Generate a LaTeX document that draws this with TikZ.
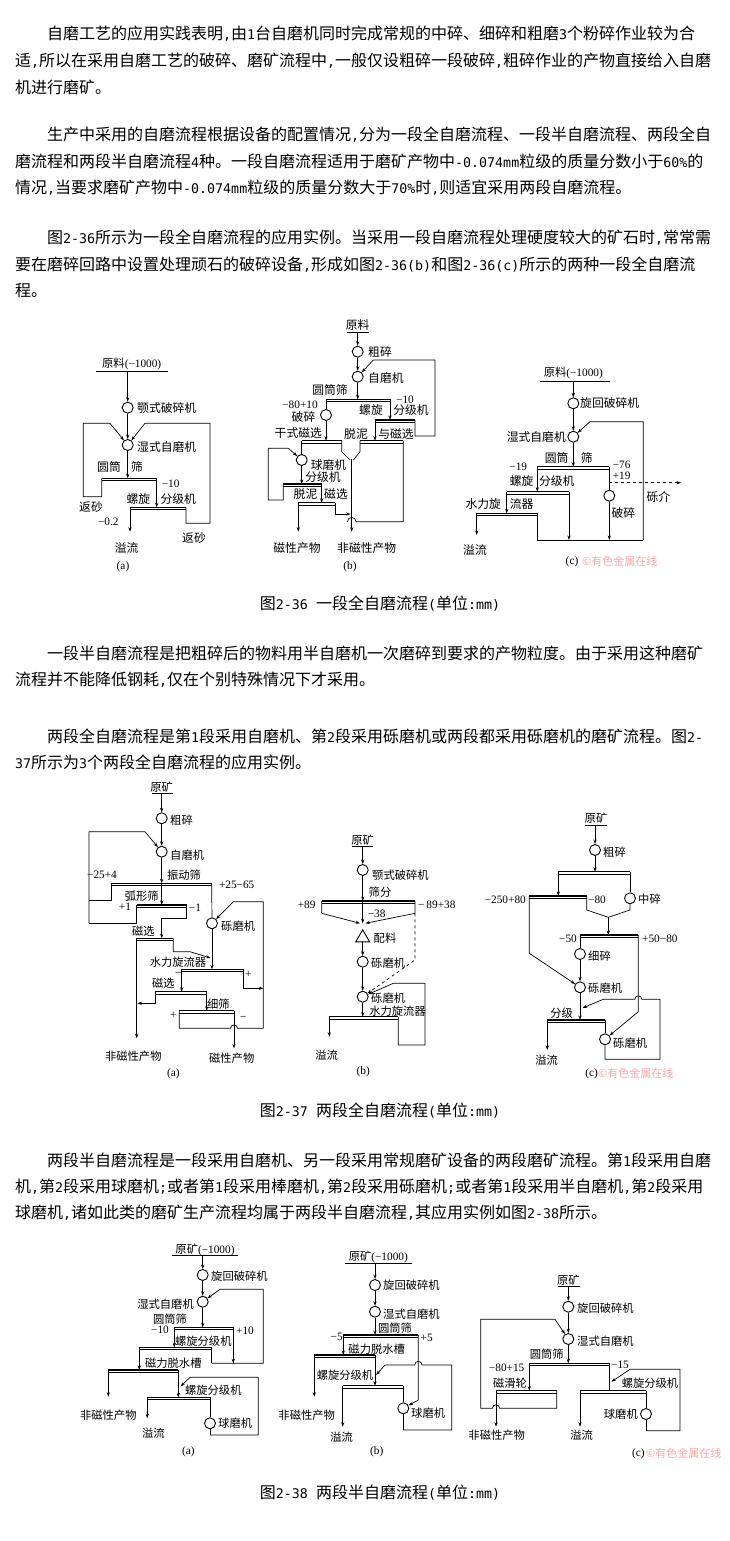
\documentclass[tikz,border=0pt]{standalone}
\usepackage{fontspec}
\usetikzlibrary{arrows.meta,shapes.geometric}
\setmainfont{Noto Sans CJK SC}
\newfontfamily\cjk{Noto Sans CJK SC}
\newfontfamily\amono{DejaVu Sans Mono}
\newfontfamily\fser{Liberation Serif}
\newcommand\A[1]{{\amono\fontsize{13.3}{16}\selectfont #1}}
\newcommand\sbar[3]{\draw[line width=1.3pt] (#1,#3)--(#2,#3); \draw[line width=0.5pt] (#1,#3+2.3)--(#2,#3+2.3);}
\tikzset{
 ptxt/.style={anchor=west,inner sep=0pt,font=\cjk\fontsize{16}{18}\selectfont},
 ctxt/.style={inner sep=0pt,font=\cjk\fontsize{16}{18}\selectfont},
 L/.style={inner sep=0pt,font=\cjk\fontsize{11.3}{12}\selectfont},
 LL/.style={inner sep=0pt,font=\cjk\fontsize{11.8}{12}\selectfont},
 N/.style={inner sep=0pt,font=\fser\fontsize{11.3}{12}\selectfont},
 mill/.style={circle,draw,line width=0.9pt,minimum size=11pt,inner sep=0pt},
 fl/.style={line width=0.7pt},
 ar/.style={line width=0.7pt,-{Stealth[length=4.5pt,width=3.2pt]}},
 dar/.style={ar,dashed},
 wm/.style={inner sep=0pt,font=\cjk\fontsize{11}{12}\selectfont,text=red!35},
}
\begin{document}
\begin{tikzpicture}[x=1pt,y=-1pt]
\useasboundingbox (0,0) rectangle (730,1541);
\fill[white] (0,0) rectangle (730,1541);
% ---------------- paragraphs ----------------
\node[ptxt] (p1a) at (47,34) {自磨工艺的应用实践表明\A{,}由\A{1}台自磨机同时完成常规的中碎、细碎和粗磨\A{3}个粉碎作业较为合};
\node[ptxt] (p1b) at (15,60.5) {适\A{,}所以在采用自磨工艺的破碎、磨矿流程中\A{,}一般仅设粗碎一段破碎\A{,}粗碎作业的产物直接给入自磨};
\node[ptxt] (p1c) at (15,87) {机进行磨矿。};
\node[ptxt] (p2a) at (47,135) {生产中采用的自磨流程根据设备的配置情况\A{,}分为一段全自磨流程、一段半自磨流程、两段全自};
\node[ptxt] (p2b) at (15,161.5) {磨流程和两段半自磨流程\A{4}种。一段自磨流程适用于磨矿产物中\A{-0.074mm}粒级的质量分数小于\A{60\%}的};
\node[ptxt] (p2c) at (15,188) {情况\A{,}当要求磨矿产物中\A{-0.074mm}粒级的质量分数大于\A{70\%}时\A{,}则适宜采用两段自磨流程。};
\node[ptxt] (p3a) at (47,238) {图\A{2-36}所示为一段全自磨流程的应用实例。当采用一段自磨流程处理硬度较大的矿石时\A{,}常常需};
\node[ptxt] (p3b) at (15,264.5) {要在磨碎回路中设置处理顽石的破碎设备\A{,}形成如图\A{2-36(b)}和图\A{2-36(c)}所示的两种一段全自磨流};
\node[ptxt] (p3c) at (15,291) {程。};
\node[ctxt] (cap1) at (380,604) {图\A{2-36 }一段全自磨流程\A{(}单位\A{:mm)}};
\node[ptxt] (p4a) at (47,653) {一段半自磨流程是把粗碎后的物料用半自磨机一次磨碎到要求的产物粒度。由于采用这种磨矿};
\node[ptxt] (p4b) at (15,679.5) {流程并不能降低钢耗\A{,}仅在个别特殊情况下才采用。};
\node[ptxt] (p5a) at (47,736) {两段全自磨流程是第\A{1}段采用自磨机、第\A{2}段采用砾磨机或两段都采用砾磨机的磨矿流程。图\A{2-}};
\node[ptxt] (p5b) at (15,762.5) {\A{37}所示为\A{3}个两段全自磨流程的应用实例。};
\node[ctxt] (cap2) at (380,1111) {图\A{2-37 }两段全自磨流程\A{(}单位\A{:mm)}};
\node[ptxt] (p6a) at (47,1160) {两段半自磨流程是一段采用自磨机、另一段采用常规磨矿设备的两段磨矿流程。第\A{1}段采用自磨};
\node[ptxt] (p6b) at (15,1186.5) {机\A{,}第\A{2}段采用球磨机\A{;}或者第\A{1}段采用棒磨机\A{,}第\A{2}段采用砾磨机\A{;}或者第\A{1}段采用半自磨机\A{,}第\A{2}段采用};
\node[ptxt] (p6c) at (15,1213) {球磨机\A{,}诸如此类的磨矿生产流程均属于两段半自磨流程\A{,}其应用实例如图\A{2-38}所示。};
\node[ctxt] (cap3) at (380,1493) {图\A{2-38 }两段半自磨流程\A{(}单位\A{:mm)}};

% ================= Fig 2-36 (a) =================
\node[N] (a36f) at (131.7,364) {{\cjk 原料}(−1000)};
\draw[fl] (96,371) -- (168,371);
\node[mill] (a36c1) at (127.7,407.7) {};
\node[LL,anchor=west] (a36l1) at (137,407.7) {颚式破碎机};
\node[mill] (a36c2) at (127.7,445) {};
\node[LL,anchor=west] (a36l2) at (137,447) {湿式自磨机};
\draw[ar] (127.7,371) -- (a36c1);
\draw[ar] (a36c1) -- (a36c2);
\sbar{101.7}{156.7}{478.3}
\draw[ar] (a36c2) -- (127.7,478.3);
\node[LL] (a36s1) at (109,467) {圆筒};
\node[LL] (a36s2) at (137,467) {筛};
\draw[ar] (101.7,478.3) -- (101.7,496.7) -- (83.3,496.7) -- (83.3,423.3) -- (110,423.3) -- (a36c2);
\sbar{130}{186}{507.3}
\draw[ar] (156.7,478.3) -- (156.7,507.3);
\draw[ar] (186,507.3) -- (186,523.3) -- (210,523.3) -- (210,423.3) -- (145,423.3) -- (a36c2);
\draw[ar] (130,507.3) -- (130,531.7);
\node[LL] (a36r1) at (91,507) {返砂};
\node[N] (a36n1) at (108.3,521.7) {−0.2};
\node[LL] (a36o) at (126.7,548.3) {溢流};
\node[LL] (a36r2) at (194,538.3) {返砂};
\node[N] (a36n2) at (170.7,484) {−10};
\node[LL] (a36sp) at (138.3,499) {螺旋};
\node[LL] (a36cl) at (178.3,499) {分级机};
\node[N] (a36t) at (123,567) {(a)};

% ================= Fig 2-36 (b) =================
\node[LL] (b36f) at (357.7,325) {原料};
\draw[fl] (346.7,332.7) -- (369,332.7);
\node[mill] (b36c1) at (357.7,351.7) {};
\node[LL,anchor=west] (b36l1) at (368,351.7) {粗碎};
\node[mill] (b36c2) at (357.7,376.7) {};
\node[LL,anchor=west] (b36l2) at (368,378.3) {自磨机};
\draw[ar] (357.7,332.7) -- (b36c1);
\draw[ar] (b36c1) -- (b36c2);
\sbar{326}{390}{399.3}
\draw[ar] (b36c2) -- (357.7,399.3);
\node[LL] (b36s) at (330,389.5) {圆筒筛};
\node[mill] (b36c3) at (326,415) {};
\draw[fl] (326,399.3) -- (b36c3);
\node[N] (b36n1) at (300,404.3) {−80+10};
\node[LL] (b36l3) at (303.5,416.7) {破碎};
\sbar{301.7}{341.7}{440.7}
\draw[ar] (b36c3) -- (326,440.7);
\node[LL] (b36dm) at (298.3,433) {干式磁选};
\node[mill] (b36c4) at (301.7,460) {};
\draw[fl] (301.7,440.7) -- (b36c4);
\node[LL] (b36l4) at (328.5,465) {球磨机};
\sbar{283.3}{321.7}{484}
\draw[ar] (b36c4) -- (301.7,484);
\node[LL] (b36l5) at (323,477) {分级机};
\draw[ar] (283.3,484) -- (283.3,500) -- (268.3,500) -- (268.3,448.3) -- (288.3,448.3) -- (b36c4);
\sbar{298.3}{335}{502.7}
\draw[ar] (321.7,484) -- (321.7,502.7);
\node[LL] (b36l6) at (305.5,494.5) {脱泥};
\node[LL] (b36l7) at (336,494.5) {磁选};
\draw[ar] (298.3,502.7) -- (298.3,531.7);
\node[LL] (b36p1) at (297,548.3) {磁性产物};
\draw[ar] (335,502.7) -- (335,514) -- (350.5,514);
\draw[fl] (341.7,440.7) -- (341.7,451.7) -- (350,460);
\draw[fl] (360,440.7) -- (360,451.7) -- (353.4,460);
\draw[ar] (351.7,459) -- (351.7,531.7);
\node[LL] (b36p2) at (366.7,548.3) {非磁性产物};
\sbar{360}{403.3}{440.7}
\draw[fl] (403.3,440.7) -- (403.3,521.7) -- (356,521.7) arc[start angle=0,end angle=-180,radius=4.3];
\node[LL] (b36l8) at (356,434.5) {脱泥};
\node[LL] (b36l9) at (396,434.5) {与磁选};
\sbar{375}{415}{420}
\draw[ar] (390,399.3) -- (390,420);
\node[N] (b36n2) at (405,400) {−10};
\node[LL] (b36l10) at (371,410) {螺旋};
\node[LL] (b36l11) at (411,410) {分级机};
\draw[ar] (375,420) -- (375,440.7);
\draw[ar] (415,420) -- (415,436) -- (435,436) -- (435,360) -- (373.3,360) -- (b36c2);
\node[N] (b36t) at (350,567) {(b)};

% ================= Fig 2-36 (c) =================
\node[N] (c36f) at (573.3,373.3) {{\cjk 原料}(−1000)};
\draw[fl] (540,381.7) -- (610,381.7);
\node[mill] (c36c1) at (573.3,403.3) {};
\node[LL,anchor=west] (c36l1) at (580,403.3) {旋回破碎机};
\node[mill] (c36c2) at (573.3,436.7) {};
\node[LL,anchor=east] (c36l2) at (566,437.3) {湿式自磨机};
\draw[ar] (573.3,381.7) -- (c36c1);
\draw[ar] (c36c1) -- (c36c2);
\draw[ar] (643.3,540) -- (643.3,421.7) -- (590,421.7) -- (c36c2);
\sbar{537.3}{609.3}{466.7}
\draw[ar] (c36c2) -- (573.3,466.7);
\node[LL] (c36s1) at (556.7,458.3) {圆筒};
\node[LL] (c36s2) at (586.7,458.3) {筛};
\sbar{506.7}{569}{491.7}
\draw[ar] (537.3,466.7) -- (537.3,491.7);
\node[N] (c36n1) at (518.3,467.3) {−19};
\node[LL] (c36l3) at (521.7,481.5) {螺旋};
\node[LL] (c36l4) at (556.7,481.5) {分级机};
\node[mill] (c36c3) at (609.3,495.7) {};
\draw[fl] (609.3,466.7) -- (c36c3);
\draw[dar] (609.3,482.7) -- (681,482.7);
\node[N] (c36n2) at (621.7,465) {−76};
\node[N] (c36n3) at (621.7,476) {+19};
\node[LL] (c36l5) at (658.3,496.7) {砾介};
\node[LL] (c36l6) at (623.3,513.3) {破碎};
\draw[ar] (c36c3) -- (609.3,540);
\draw[ar] (569,491.7) -- (569,540);
\sbar{476.7}{537.3}{513.3}
\draw[ar] (506.7,491.7) -- (506.7,513.3);
\node[LL] (c36l7) at (483.3,504) {水力旋};
\node[LL] (c36l8) at (521.7,504) {流器};
\draw[ar] (476.7,513.3) -- (476.7,535);
\node[LL] (c36o) at (475,550) {溢流};
\draw[fl] (537.3,513.3) -- (537.3,540) -- (643.3,540);
\node[N] (c36t) at (572,561.7) {(c)};
\node[wm,anchor=west] (c36w) at (582,561.7) {©有色金属在线};

% ================= Fig 2-37 (a) =================
\node[L] (a37f) at (161.7,786.7) {原矿};
\draw[fl] (151.7,793.3) -- (173.3,793.3);
\node[mill] (a37c1) at (161.7,818.3) {};
\node[L,anchor=west] (a37l1) at (170,820) {粗碎};
\node[mill] (a37c2) at (161.7,851.7) {};
\node[L,anchor=west] (a37l2) at (170,855) {自磨机};
\draw[ar] (161.7,793.3) -- (a37c1);
\draw[ar] (a37c1) -- (a37c2);
\draw[ar] (89,923.3) -- (89,831.7) -- (145,831.7) -- (a37c2);
\sbar{111.7}{211.7}{883.3}
\draw[ar] (a37c2) -- (161.7,883.3);
\node[L] (a37l3) at (184,875) {振动筛};
\node[N] (a37n1) at (102,875) {−25+4};
\draw[fl] (111.7,883.3) -- (111.7,900) -- (89,900);
\sbar{136.7}{186.7}{905}
\draw[ar] (161.7,883.3) -- (161.7,905);
\node[L] (a37l4) at (141.7,896.7) {弧形筛};
\node[N] (a37n2) at (125,906.7) {+1};
\node[N] (a37n3) at (195,907.3) {−1};
\draw[fl] (136.7,905) -- (136.7,923.3) -- (89,923.3);
\sbar{136.7}{173.3}{938.3}
\draw[ar] (186.7,905) -- (186.7,918.3) -- (161.7,918.3) -- (161.7,938.3);
\node[L] (a37l5) at (143.3,931.5) {磁选};
\draw[ar] (136.7,938.3) -- (136.7,1038.3);
\node[L] (a37p1) at (133.3,1056.7) {非磁性产物};
\draw[ar] (173.3,938.3) -- (173.3,951.7) -- (190,951.7) -- (210.5,958);
\node[mill] (a37c3) at (212,923.3) {};
\draw[fl] (211.7,883.3) -- (a37c3);
\node[L,anchor=west] (a37l6) at (221,926.7) {砾磨机};
\node[N] (a37n4) at (236.7,885) {+25−65};
\draw[ar] (263.3,1028.3) -- (263.3,901.7) -- (233.3,901.7) -- (a37c3);
\sbar{181.7}{243.3}{969.3}
\draw[ar] (a37c3) -- (212,969.3);
\node[L] (a37l7) at (178,962) {水力旋流器};
\node[N] (a37n5) at (178.3,974) {−};
\node[N] (a37n6) at (248.3,974) {+};
\draw[ar] (243.3,969.3) -- (243.3,988.3) -- (263.3,988.3);
\sbar{155}{206.7}{991.7}
\draw[ar] (181.7,969.3) -- (181.7,991.7);
\node[L] (a37l8) at (163.3,983) {磁选};
\draw[ar] (155,991.7) -- (155,1003.3) -- (137.5,1003.3);
\sbar{179.3}{234}{1010.7}
\draw[ar] (206.7,991.7) -- (206.7,1010.7);
\node[L] (a37l9) at (218.3,1004.5) {细筛};
\node[N] (a37n7) at (173.3,1015) {+};
\node[N] (a37n8) at (243.3,1018.3) {−};
\draw[fl] (179.3,1010.7) -- (179.3,1028.3) -- (230.5,1028.3) arc[start angle=180,end angle=360,radius=3.5] -- (263.3,1028.3);
\draw[ar] (234,1010.7) -- (234,1048.3);
\node[L] (a37p2) at (231.7,1058.3) {磁性产物};
\node[N] (a37t) at (173.3,1073.3) {(a)};

% ================= Fig 2-37 (b) =================
\node[L] (b37f) at (362.7,840) {原矿};
\draw[fl] (351.7,846.7) -- (373.3,846.7);
\node[mill] (b37c1) at (362.7,870) {};
\node[L,anchor=west] (b37l1) at (372,875) {颚式破碎机};
\draw[ar] (362.7,846.7) -- (b37c1);
\sbar{321.7}{415}{901}
\draw[ar] (b37c1) -- (362.7,901);
\node[L] (b37l2) at (380,892.3) {筛分};
\node[N] (b37n1) at (306.7,904.3) {+89};
\node[N,anchor=west] (b37n2) at (418,904.3) {−\,89+38};
\draw[ar] (321.7,901) -- (321.7,913.3) -- (360,923.3);
\draw[ar] (362.7,901) -- (362.7,923.3);
\node[N] (b37n3) at (376.7,913.3) {−38};
\draw[ar] (415,901) -- (415,913.3) -- (365.4,923.3);
\node[draw,line width=0.9pt,regular polygon,regular polygon sides=3,minimum size=16pt,inner sep=0pt] (b37tri) at (362.7,937.8) {};
\node[L] (b37l3) at (385,938.3) {配料};
\node[mill] (b37c2) at (362.7,961.7) {};
\node[L,anchor=west] (b37l4) at (371,963.3) {砾磨机};
\draw[ar] (b37tri.south) -- (b37c2);
\node[mill] (b37c3) at (362.7,996.7) {};
\node[L,anchor=west] (b37l5) at (371,998.5) {砾磨机};
\draw[ar] (b37c2) -- (b37c3);
\draw[dar] (415,913.3) -- (415,960) -- (b37c3);
\sbar{329.3}{398.3}{1016.7}
\draw[ar] (b37c3) -- (362.7,1016.7);
\node[L] (b37l6) at (397.5,1010.8) {水力旋流器};
\draw[ar] (398.3,1016.7) -- (398.3,1045) -- (425,1045) -- (425,983.3) -- (393.3,983.3) -- (b37c3);
\draw[ar] (329.3,1016.7) -- (329.3,1036.7);
\node[L] (b37o) at (326.7,1055) {溢流};
\node[N] (b37t) at (363.3,1071.7) {(b)};

% ================= Fig 2-37 (c) =================
\node[L] (c37f) at (596,818.3) {原矿};
\draw[fl] (585,825) -- (606.7,825);
\node[mill] (c37c1) at (595,850) {};
\node[L,anchor=west] (c37l1) at (603,851.7) {粗碎};
\draw[ar] (595,825) -- (c37c1);
\sbar{558.3}{630}{871.7}
\draw[ar] (c37c1) -- (595,871.7);
\node[mill] (c37c2) at (630,898.3) {};
\node[L,anchor=west] (c37l2) at (638,899.3) {中碎};
\draw[fl] (630,871.7) -- (c37c2);
\sbar{529.3}{586.7}{896}
\draw[ar] (558.3,871.7) -- (558.3,896);
\node[N,anchor=east] (c37n1) at (526,900) {−250+80};
\node[N,anchor=west] (c37n2) at (588,899.3) {−80};
\node[mill] (c37c3) at (580,954) {};
\node[L,anchor=west] (c37l3) at (588,956) {细碎};
\node[mill] (c37c4) at (580,987.3) {};
\node[L,anchor=west] (c37l4) at (588,988.3) {砾磨机};
\draw[ar] (529.3,896) -- (529.3,953.3) -- (c37c4);
\draw[fl] (586.7,896) -- (586.7,910) -- (608.3,917.3);
\draw[fl] (c37c2) -- (630,910) -- (608.3,917.3);
\sbar{580}{638.3}{935}
\draw[ar] (608.3,917.3) -- (608.3,935);
\node[N,anchor=east] (c37n3) at (577,938.3) {−50};
\node[N,anchor=west] (c37n4) at (642,938.3) {+50−80};
\draw[fl] (580,935) -- (c37c3);
\draw[ar] (c37c3) -- (c37c4);
\sbar{547.3}{605}{1020}
\draw[ar] (c37c4) -- (580,1020);
\node[L] (c37l5) at (561.7,1013) {分级};
\draw[ar] (547.3,1020) -- (547.3,1050);
\node[L] (c37o) at (546.7,1060) {溢流};
\node[mill] (c37c5) at (605,1039.3) {};
\node[L,anchor=west] (c37l6) at (613,1043.3) {砾磨机};
\draw[fl] (605,1020) -- (c37c5);
\draw[ar] (c37c5) -- (605,1059.3) -- (660,1059.3) -- (660,999.3) -- (641.8,999.3) arc[start angle=0,end angle=-180,radius=3.5] -- (603.3,999.3) -- (582.5,1008);
\draw[ar] (638.3,935) -- (638.3,1011.7) -- (c37c5);
\node[N] (c37t) at (591.7,1073.3) {(c)};
\node[wm,anchor=west] (c37w) at (598,1073.3) {©有色金属在线};

% ================= Fig 2-38 (a) =================
\node[N] (a38f) at (205,1250) {{\cjk 原矿}(−1000)};
\draw[fl] (171.7,1255.7) -- (238.3,1255.7);
\node[mill] (a38c1) at (202.7,1275) {};
\node[L,anchor=west] (a38l1) at (211,1276) {旋回破碎机};
\node[mill] (a38c2) at (202.7,1301.7) {};
\node[L,anchor=east] (a38l2) at (194,1304) {湿式自磨机};
\draw[ar] (202.7,1255.7) -- (a38c1);
\draw[ar] (a38c1) -- (a38c2);
\draw[ar] (211.7,1363.3) -- (263.3,1363.3) -- (263.3,1289.3) -- (220,1289.3) -- (a38c2);
\sbar{174.3}{233.3}{1327.3}
\draw[ar] (a38c2) -- (202.7,1327.3);
\node[L] (a38l3) at (170,1319) {圆筒筛};
\node[N] (a38n1) at (160,1330) {−10};
\node[N] (a38n2) at (245,1330.7) {+10};
\sbar{139.3}{211.7}{1347.3}
\draw[ar] (174.3,1327.3) -- (174.3,1347.3);
\draw[ar] (233.3,1327.3) -- (233.3,1363.3);
\node[L] (a38l4) at (203.3,1341) {螺旋分级机};
\draw[fl] (211.7,1347.3) -- (211.7,1363.3);
\sbar{108.3}{178.3}{1370}
\draw[ar] (139.3,1347.3) -- (139.3,1370);
\node[L] (a38l5) at (173.3,1363.5) {磁力脱水槽};
\draw[ar] (108.3,1370) -- (108.3,1396.7);
\node[L] (a38p) at (108.3,1415) {非磁性产物};
\sbar{147.3}{210}{1397.3}
\draw[ar] (178.3,1370) -- (178.3,1397.3);
\draw[ar] (210,1435) -- (258.3,1435) -- (258.3,1377.3) -- (190,1377.3) -- (180.5,1386.5);
\node[L] (a38l6) at (213.3,1390.5) {螺旋分级机};
\draw[ar] (147.3,1397.3) -- (147.3,1418.3);
\node[L] (a38o) at (153.3,1432.7) {溢流};
\node[mill] (a38c3) at (210,1423.3) {};
\node[L,anchor=west] (a38l7) at (218,1423.3) {球磨机};
\draw[fl] (210,1397.3) -- (a38c3);
\draw[fl] (a38c3) -- (210,1435);
\node[N] (a38t) at (188.3,1451.7) {(a)};

% ================= Fig 2-38 (b) =================
\node[N] (b38f) at (378.3,1256.7) {{\cjk 原矿}(−1000)};
\draw[fl] (345,1263.3) -- (411.7,1263.3);
\node[mill] (b38c1) at (375,1285) {};
\node[L,anchor=west] (b38l1) at (383,1285) {旋回破碎机};
\node[mill] (b38c2) at (375,1311.7) {};
\node[L,anchor=west] (b38l2) at (383,1314) {湿式自磨机};
\draw[ar] (375,1263.3) -- (b38c1);
\draw[ar] (b38c1) -- (b38c2);
\sbar{343.3}{418.3}{1335}
\draw[ar] (b38c2) -- (375,1335);
\node[L] (b38l3) at (395,1328) {圆筒筛};
\node[N] (b38n1) at (336.7,1336.7) {−5};
\node[N] (b38n2) at (426.7,1338.3) {+5};
\sbar{314.3}{375}{1355}
\draw[ar] (343.3,1335) -- (343.3,1355);
\node[L] (b38l4) at (376.7,1349.5) {磁力脱水槽};
\draw[ar] (314.3,1355) -- (314.3,1396.7);
\node[L] (b38p) at (306.7,1415) {非磁性产物};
\sbar{342.7}{403.3}{1385.7}
\draw[ar] (375,1355) -- (375,1385.7);
\node[L] (b38l5) at (345,1375) {螺旋分级机};
\node[mill] (b38c3) at (403.3,1408.3) {};
\node[L,anchor=west] (b38l6) at (411,1413.3) {球磨机};
\draw[ar] (418.3,1335) -- (418.3,1400) -- (b38c3);
\draw[ar] (403.3,1430) -- (451.7,1430) -- (451.7,1365) -- (422,1365) arc[start angle=0,end angle=-180,radius=3.7] -- (385,1365) -- (376,1375);
\draw[ar] (342.7,1385.7) -- (342.7,1426.7);
\node[L] (b38o) at (341.7,1437) {溢流};
\draw[fl] (403.3,1385.7) -- (b38c3);
\draw[fl] (b38c3) -- (403.3,1430);
\node[N] (b38t) at (376.7,1451.7) {(b)};

% ================= Fig 2-38 (c) =================
\node[L] (c38f) at (568.3,1280) {原矿};
\draw[fl] (558.3,1286.7) -- (580,1286.7);
\node[mill] (c38c1) at (568.3,1306.7) {};
\node[L,anchor=west] (c38l1) at (577,1308.3) {旋回破碎机};
\node[mill] (c38c2) at (568.3,1339) {};
\node[L,anchor=west] (c38l2) at (577,1340.7) {湿式自磨机};
\draw[ar] (568.3,1286.7) -- (c38c1);
\draw[ar] (c38c1) -- (c38c2);
\sbar{529.3}{609.3}{1363.3}
\draw[ar] (c38c2) -- (568.3,1363.3);
\node[L] (c38l3) at (546.7,1354) {圆筒筛};
\node[N] (c38n1) at (506.7,1367.3) {−80+15};
\node[N] (c38n2) at (620,1365) {−15};
\sbar{496}{556.7}{1390.7}
\draw[ar] (529.3,1363.3) -- (529.3,1390.7);
\node[L] (c38l4) at (510,1383) {磁滑轮};
\draw[ar] (556.7,1390.7) -- (556.7,1408.3) -- (499.6,1408.3) arc[start angle=0,end angle=-180,radius=3.6] -- (480.7,1408.3) -- (480.7,1319.3) -- (555,1319.3) -- (c38c2);
\draw[ar] (496,1390.7) -- (496,1426.7);
\node[L] (c38p) at (496.7,1435) {非磁性产物};
\sbar{580}{646}{1390.7}
\draw[fl] (609.3,1363.3) -- (609.3,1390.7);
\node[L] (c38l5) at (650,1383.5) {螺旋分级机};
\draw[ar] (646,1430.7) -- (680,1430.7) -- (680,1369.3) -- (630,1369.3) -- (611.5,1381.7);
\draw[ar] (580,1390.7) -- (580,1426.7);
\node[L] (c38o) at (581.7,1435) {溢流};
\node[mill] (c38c3) at (646,1414) {};
\node[L,anchor=east] (c38l6) at (638,1414) {球磨机};
\draw[fl] (646,1390.7) -- (c38c3);
\draw[fl] (c38c3) -- (646,1430.7);
\node[N] (c38t) at (638.3,1453.3) {(c)};
\node[wm,anchor=west] (c38w) at (646,1453.3) {©有色金属在线};
\end{tikzpicture}
\end{document}
